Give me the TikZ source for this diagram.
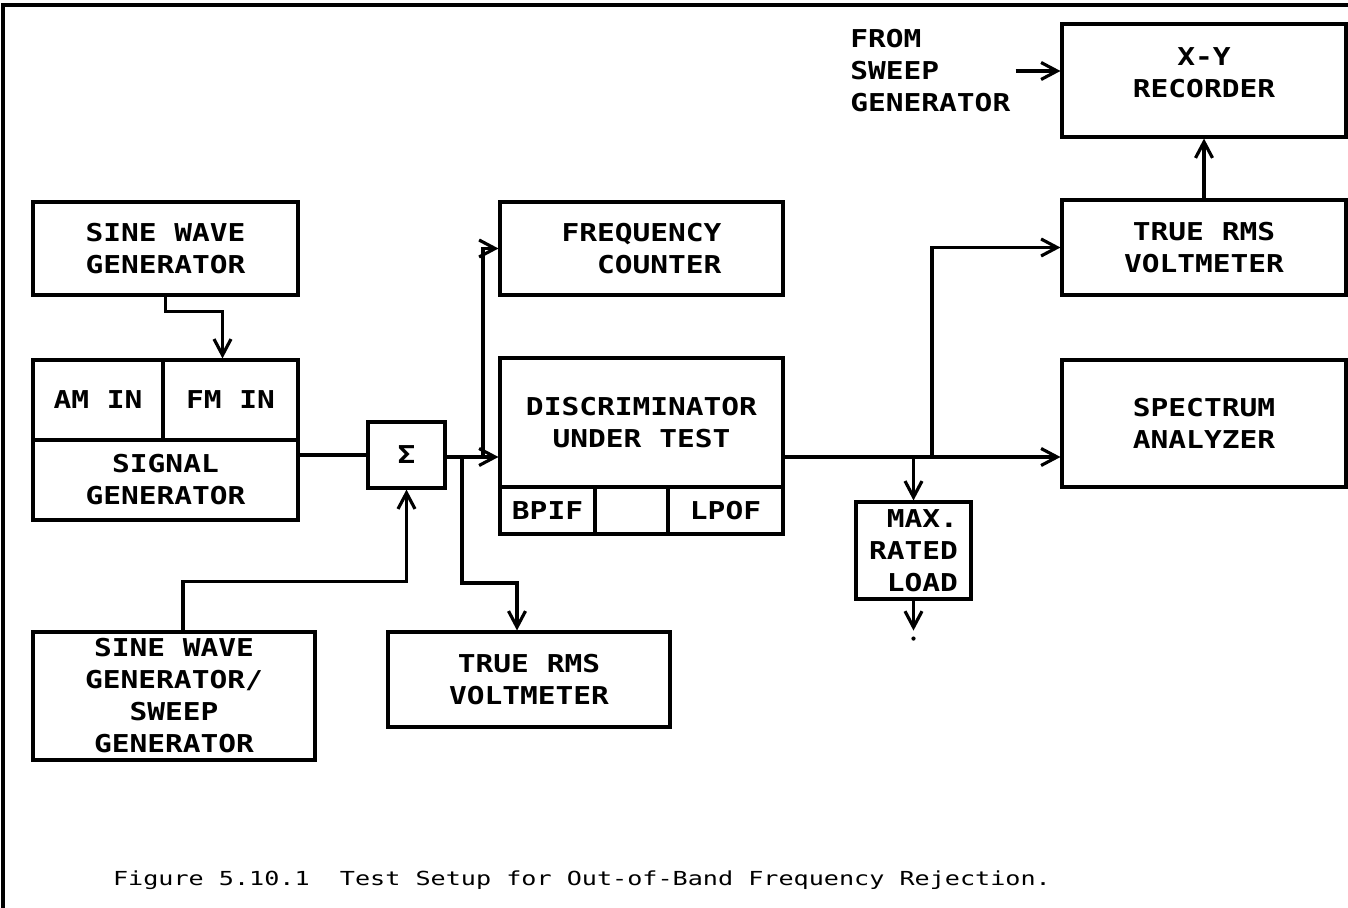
\documentclass[tikz,border=0pt]{standalone}
\usepackage{fontspec}
\usetikzlibrary{positioning,arrows.meta,calc}
\newfontfamily\plotfont[FakeStretch=1.2]{DejaVu Sans Mono}
\newfontfamily\capfont[FakeStretch=1.3]{DejaVu Sans Mono}

\begin{document}
\begin{tikzpicture}[
    x=0.02cm, y=-0.02cm,
    block/.style={rectangle, draw, line width=1.8pt, inner sep=0pt, align=center, font=\plotfont\bfseries\fontsize{14}{18.2}\selectfont},
    arrow/.style={-{Straight Barb[length=3.2mm,width=3.4mm]}, line width=1.8pt},
    wire/.style={line width=1.8pt}
]
\useasboundingbox (0,0) rectangle (1348,908);

% --- frame ---
\draw[line width=1.8pt] (3,908) -- (3,5) -- (1348,5);

% --- sources ---
\node[block, minimum width=5.3cm, minimum height=1.86cm] (sinegen) at (165.5,248.5) {SINE WAVE\\GENERATOR};
\node[block, minimum width=2.6cm, minimum height=1.6cm] (amin) at (98,400) {AM IN};
\node[block, minimum width=2.7cm, minimum height=1.6cm] (fmin) at (230.5,400) {FM IN};
\node[block, minimum width=5.3cm, minimum height=1.6cm] (siggen) at (165.5,480) {SIGNAL\\GENERATOR};
\node[block, minimum width=5.64cm, minimum height=2.56cm] (sweepgen) at (174,696) {SINE WAVE\\GENERATOR/\\SWEEP\\GENERATOR};

% --- summing point ---
\node[block, minimum width=1.54cm, minimum height=1.32cm] (sum) at (406.5,455) {Σ};

% --- unit under test ---
\node[block, minimum width=5.66cm, minimum height=1.86cm, align=right] (freqctr) at (641.5,248.5) {FREQUENCY\\COUNTER};
\node[block, minimum width=5.66cm, minimum height=2.58cm] (disc) at (641.5,422.5) {DISCRIMINATOR\\UNDER TEST};
\node[block, minimum width=1.9cm, minimum height=0.94cm] (bpif) at (547.5,510.5) {BPIF};
\node[block, minimum width=1.46cm, minimum height=0.94cm] (midcell) at (631.5,510.5) {};
\node[block, minimum width=2.3cm, minimum height=0.94cm] (lpof) at (725.5,510.5) {LPOF};
\node[block, minimum width=5.64cm, minimum height=1.9cm] (rmsmid) at (529,679.5) {TRUE RMS\\VOLTMETER};

% --- output side ---
\node[block, minimum width=2.3cm, minimum height=1.94cm, align=right] (load) at (913.5,550.5) {MAX.\\RATED\\LOAD};
\node[block, minimum width=5.68cm, minimum height=2.26cm, text depth=0.3cm] (xyrec) at (1204,80.5) {X-Y\\RECORDER};
\node[block, minimum width=5.68cm, minimum height=1.9cm] (rmsright) at (1204,247.5) {TRUE RMS\\VOLTMETER};
\node[block, minimum width=5.68cm, minimum height=2.54cm] (specan) at (1204,423.5) {SPECTRUM\\ANALYZER};
\node[font=\plotfont\bfseries\fontsize{14}{18.2}\selectfont, align=left, anchor=west, inner sep=0pt] (sweepin) at (850,71) {FROM\\SWEEP\\GENERATOR};

% --- caption ---
\node[font=\capfont\fontsize{11}{13}\selectfont] (caption) at (582,880) {Figure 5.10.1\ \ Test Setup for Out-of-Band Frequency Rejection.};

% --- taps ---
\coordinate (taprms) at (462,457);
\coordinate (tapfreq) at (483,457);
\coordinate (tapload) at (load.north |- tapfreq);
\coordinate (taprec) at (932,457);
\coordinate (gnd) at ($(load.south)+(0,30)$);

% --- connectors ---
\draw[arrow] (sinegen.south) -- ++(0,15) -| ([xshift=-0.16cm]fmin.north);
\draw[wire] (siggen.east |- sum.west) -- (sum.west);
\draw[arrow] ([xshift=0.18cm]sweepgen.north) -- ++(0,-49) -| (sum.south);
\draw[wire] (sum.east |- tapfreq) -- (tapfreq);
\draw[arrow] (tapfreq) -- (disc.west |- tapfreq);
\draw[arrow] (tapfreq) |- (freqctr.west);
\draw[arrow] (taprms) -- ++(0,126) -| ([xshift=-0.24cm]rmsmid.north);
\draw[arrow] (disc.east |- tapfreq) -- (specan.west |- tapfreq);
\draw[arrow] (tapload) -- (load.north);
\draw[arrow] (taprec) |- (rmsright.west);
\draw[arrow] (load.south) -- (gnd);
\fill ($(gnd)+(0,8)$) circle (1.2pt);
\draw[arrow] (rmsright.north) -- (xyrec.south);
\draw[arrow] ($(sweepin.east)+(5,0)$) -- (xyrec.west |- sweepin.east);

\end{tikzpicture}
\end{document}
